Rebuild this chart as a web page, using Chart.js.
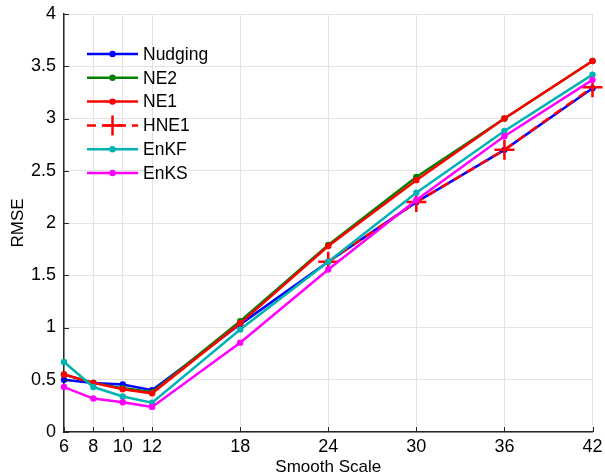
<!DOCTYPE html>
<html>
<head>
<meta charset="utf-8">
<script src="https://cdn.jsdelivr.net/npm/chart.js@4"></script>
<style>
  html, body { margin: 0; padding: 0; background: #fff; }
  #wrap { width: 605px; height: 476px; }
</style>
</head>
<body>
<div id="wrap"><canvas id="rmseChart"></canvas></div>
<script>
var scales = [6, 8, 10, 12, 18, 24, 30, 36, 42];
var yTicks = [0, 0.5, 1, 1.5, 2, 2.5, 3, 3.5, 4];

var nudging = [0.50, 0.47, 0.455, 0.40, 1.03, 1.63, 2.20, 2.70, 3.29];
var ne2     = [0.55, 0.47, 0.42, 0.38, 1.06, 1.79, 2.44, 3.00, 3.55];
var ne1     = [0.55, 0.47, 0.41, 0.37, 1.04, 1.78, 2.41, 3.00, 3.55];
// HNE1 only reported from scale 24 on
var hne1    = [null, null, null, null, null, 1.63, 2.20, 2.70, 3.30];
var enkf    = [0.67, 0.43, 0.34, 0.28, 0.98, 1.63, 2.29, 2.88, 3.42];
var enks    = [0.43, 0.32, 0.285, 0.24, 0.855, 1.555, 2.22, 2.83, 3.37];

var FONT = '"Liberation Sans", Arial, sans-serif';

function toPoints(vals) {
  return vals.map(function (v, i) { return { x: scales[i], y: v }; });
}

function lineSet(label, vals, color, order) {
  return {
    label: label,
    data: toPoints(vals),
    borderColor: color,
    backgroundColor: color,
    borderWidth: 2.5,
    pointRadius: 3.2,
    pointHoverRadius: 3.2,
    pointBorderWidth: 0,
    fill: false,
    tension: 0,
    clip: false,
    spanGaps: false,
    order: order
  };
}

var hneSet = lineSet('HNE1', hne1, '#ff0000', 3);
hneSet.borderDash = [9, 6];
hneSet.pointStyle = 'cross';
hneSet.pointRadius = 10;
hneSet.pointBorderWidth = 2.5;

// legend drawn inside the plot, matlab style (line + marker)
var innerLegend = {
  id: 'innerLegend',
  afterDraw: function (chart) {
    var ctx = chart.ctx;
    var x0 = 87, x1 = 138, y = 54, step = 23.8;
    ctx.save();
    ctx.font = '17.5px ' + FONT;
    ctx.textBaseline = 'middle';
    chart.data.datasets.forEach(function (ds, i) {
      var yy = y + i * step;
      ctx.strokeStyle = ds.borderColor;
      ctx.lineWidth = 2.5;
      ctx.setLineDash(ds.borderDash || []);
      ctx.beginPath();
      ctx.moveTo(x0, yy);
      ctx.lineTo(x1, yy);
      ctx.stroke();
      ctx.setLineDash([]);
      var mx = (x0 + x1) / 2;
      if (ds.pointStyle === 'cross') {
        ctx.beginPath();
        ctx.moveTo(mx - 10, yy); ctx.lineTo(mx + 10, yy);
        ctx.moveTo(mx, yy - 10); ctx.lineTo(mx, yy + 10);
        ctx.stroke();
      } else {
        ctx.fillStyle = ds.borderColor;
        ctx.beginPath();
        ctx.arc(mx, yy, 3.2, 0, Math.PI * 2);
        ctx.fill();
      }
      ctx.fillStyle = '#000';
      ctx.fillText(ds.label, 143, yy + 1);
    });
    // inward tick marks on both axes
    var ys = chart.scales.y, xs = chart.scales.x;
    ctx.strokeStyle = '#262626';
    ctx.lineWidth = 1;
    yTicks.forEach(function (t) {
      var py = Math.round(ys.getPixelForValue(t)) + 0.5;
      ctx.beginPath();
      ctx.moveTo(xs.left, py);
      ctx.lineTo(xs.left + 5, py);
      ctx.stroke();
    });
    scales.forEach(function (t) {
      var px = Math.round(xs.getPixelForValue(t)) + 0.5;
      ctx.beginPath();
      ctx.moveTo(px, ys.bottom);
      ctx.lineTo(px, ys.bottom - 5);
      ctx.stroke();
    });
    ctx.restore();
  }
};

var ctx = document.getElementById('rmseChart');
var rmseChart = new Chart(ctx, {
  type: 'line',
  data: {
    datasets: [
      lineSet('Nudging', nudging, '#0000ff', 6),
      lineSet('NE2', ne2, '#008000', 5),
      lineSet('NE1', ne1, '#ff0000', 4),
      hneSet,
      lineSet('EnKF', enkf, '#00b3b3', 2),
      lineSet('EnKS', enks, '#ff00ff', 1)
    ]
  },
  options: {
    responsive: true,
    maintainAspectRatio: false,
    animation: false,
    layout: { padding: { left: 0, right: 11, top: 14, bottom: 0 } },
    plugins: {
      legend: { display: false },
      tooltip: { enabled: false }
    },
    scales: {
      x: {
        type: 'linear',
        min: 6,
        max: 42,
        afterBuildTicks: function (axis) {
          axis.ticks = scales.map(function (v) { return { value: v }; });
        },
        afterFit: function (axis) {
          axis.height = 44;
          axis.paddingLeft = 0;
          axis.paddingRight = 0;
        },
        grid: { color: '#e3e3e3', lineWidth: 1, drawTicks: false },
        border: { color: '#262626', width: 1.5 },
        ticks: {
          color: '#000',
          padding: 4,
          maxRotation: 0,
          autoSkip: false,
          font: { family: FONT, size: 18 }
        },
        title: {
          display: true,
          text: 'Smooth Scale',
          color: '#000',
          padding: { top: 0, bottom: -2 },
          font: { family: FONT, size: 17 }
        }
      },
      y: {
        min: 0,
        max: 4,
        afterBuildTicks: function (axis) {
          axis.ticks = yTicks.map(function (v) { return { value: v }; });
        },
        afterFit: function (axis) {
          axis.width = 64;
          axis.paddingTop = 0;
          axis.paddingBottom = 0;
        },
        grid: { color: '#e3e3e3', lineWidth: 1, drawTicks: false },
        border: { color: '#262626', width: 1.5 },
        ticks: {
          color: '#000',
          padding: 8,
          font: { family: FONT, size: 18 },
          callback: function (v) { return String(v); }
        },
        title: {
          display: true,
          text: 'RMSE',
          color: '#000',
          padding: { top: 8, bottom: 0 },
          font: { family: FONT, size: 17 }
        }
      }
    }
  },
  plugins: [innerLegend]
});
</script>
</body>
</html>
